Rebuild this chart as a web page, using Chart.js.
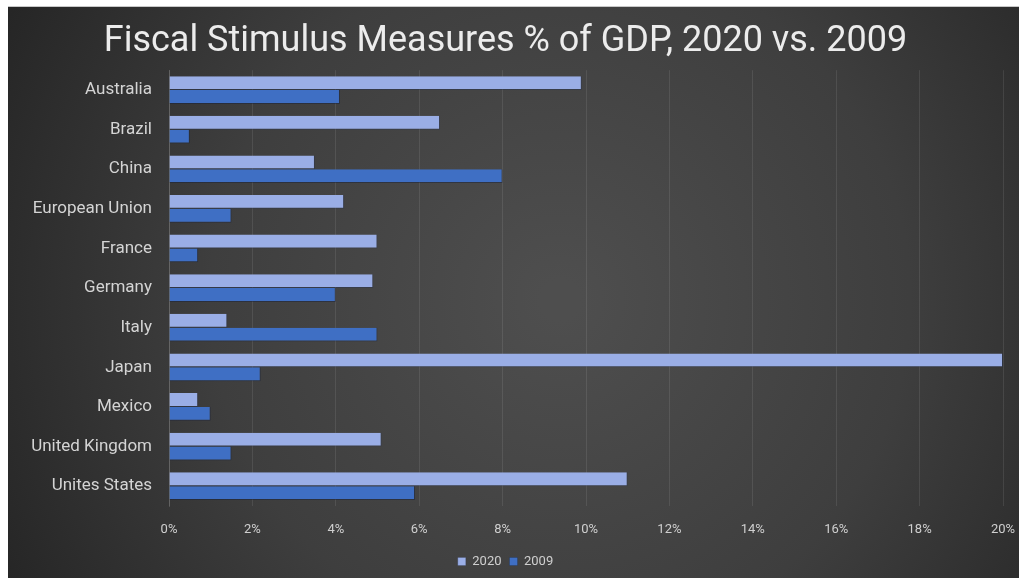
<!DOCTYPE html>
<html>
<head>
<meta charset="utf-8">
<script src="https://cdn.jsdelivr.net/npm/chart.js@4"></script>
<style>
  html, body { margin: 0; padding: 0; background: #ffffff; overflow: hidden; }
  #wrap { width: 1019px; height: 578px; }
  canvas { display: block; }
</style>
</head>
<body>
<div id="wrap"><canvas id="stimulusChart" width="1019" height="578"></canvas></div>
<script>
// Länder und Werte (% des BIP)
const countries = ['Australia', 'Brazil', 'China', 'European Union', 'France', 'Germany',
                   'Italy', 'Japan', 'Mexico', 'United Kingdom', 'Unites States'];
const values2020 = [9.9, 6.5, 3.5, 4.2, 5.0, 4.9, 1.4, 20.0, 0.7, 5.1, 11.0];
const values2009 = [4.1, 0.5, 8.0, 1.5, 0.7, 4.0, 5.0, 2.2, 1.0, 1.5, 5.9];
const xTicks = [0, 2, 4, 6, 8, 10, 12, 14, 16, 18, 20];

// Dunkler Hintergrund mit weißem Rand oben/links
const panelBackground = {
    id: 'panelBackground',
    beforeDraw(chart) {
        const { ctx, width, height } = chart;
        ctx.save();
        ctx.fillStyle = '#ffffff';
        ctx.fillRect(0, 0, width, height);
        ctx.fillStyle = '#c8c8c8';
        ctx.fillRect(8, 6, width - 8, 1);
        const g = ctx.createRadialGradient(560, 300, 20, 560, 300, 620);
        g.addColorStop(0, '#4e4e4e');
        g.addColorStop(0.55, '#3e3e3e');
        g.addColorStop(1, '#262626');
        ctx.fillStyle = g;
        ctx.fillRect(8, 7, width - 8, height - 7);
        ctx.restore();
    }
};

const ctx = document.getElementById('stimulusChart').getContext('2d');

new Chart(ctx, {
    type: 'bar',
    data: {
        labels: countries,
        datasets: [
            {
                label: '2020',
                data: values2020,
                backgroundColor: '#9aaee6',
                borderColor: 'rgba(40, 50, 80, 0.45)',
                borderWidth: { top: 0, left: 0, right: 1, bottom: 1 },
                categoryPercentage: 0.7,
                barPercentage: 1.0
            },
            {
                label: '2009',
                data: values2009,
                backgroundColor: '#3f6fc4',
                borderColor: 'rgba(20, 30, 60, 0.45)',
                borderWidth: { top: 0, left: 0, right: 1, bottom: 1 },
                categoryPercentage: 0.7,
                barPercentage: 1.0
            }
        ]
    },
    options: {
        indexAxis: 'y',
        responsive: false,
        animation: false,
        layout: {
            padding: { top: 7, left: 8, right: 16, bottom: 0 }
        },
        scales: {
            x: {
                min: 0,
                max: 20,
                afterFit(scale) { scale.height = 41; },
                afterBuildTicks(scale) { scale.ticks = xTicks.map(v => ({ value: v })); },
                grid: {
                    color: 'rgba(255, 255, 255, 0.09)',
                    drawTicks: true,
                    tickLength: 16,
                    tickColor: 'rgba(0, 0, 0, 0)'
                },
                border: { display: false },
                ticks: {
                    color: '#cfcfcf',
                    padding: 0,
                    font: { family: 'Roboto', size: 13 },
                    callback: v => v + '%'
                }
            },
            y: {
                afterFit(scale) { scale.width = 161; },
                grid: { display: false },
                border: { display: true, color: 'rgba(255, 255, 255, 0.15)' },
                ticks: {
                    color: '#d4d4d4',
                    padding: 9,
                    font: { family: 'Roboto', size: 17 }
                }
            }
        },
        plugins: {
            title: {
                display: true,
                text: 'Fiscal Stimulus Measures % of GDP, 2020 vs. 2009',
                color: '#ececec',
                font: { family: 'Roboto', size: 36, weight: 'normal' },
                padding: { top: 13, bottom: 7 }
            },
            legend: {
                position: 'bottom',
                labels: {
                    color: '#cfcfcf',
                    font: { family: 'Roboto', size: 13 },
                    boxWidth: 8,
                    boxHeight: 8,
                    padding: 8
                }
            },
            tooltip: { enabled: false }
        }
    },
    plugins: [panelBackground]
});
</script>
</body>
</html>
